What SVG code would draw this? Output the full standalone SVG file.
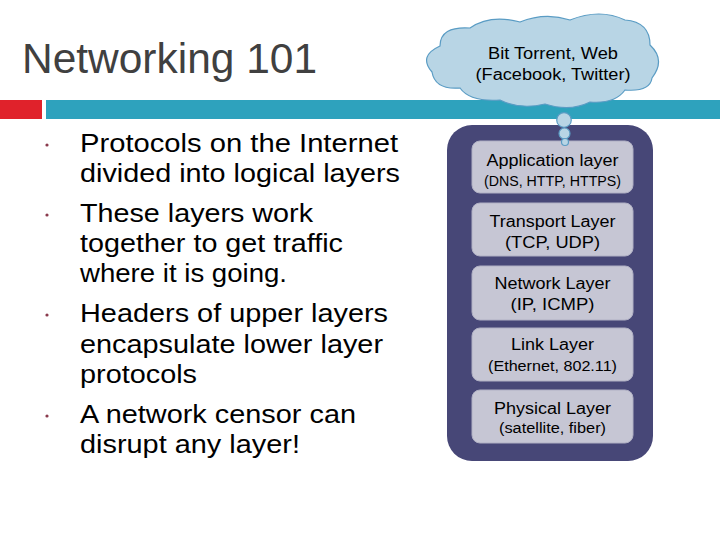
<svg xmlns="http://www.w3.org/2000/svg" width="720" height="540" viewBox="0 0 720 540">
<style>
text{font-family:"Liberation Sans",Arial,sans-serif}
.title{font-size:43px;fill:#404040}
.bt{font-size:25px;fill:#000}
.dot{fill:#8a3a4c}
.lay{fill:#c6c6d4;stroke:#b0b0c4;stroke-width:1}
.l1{font-size:16px;fill:#000;text-anchor:middle}
.l2{font-size:14px;fill:#000;text-anchor:middle}
.cl{fill:#b8d5e5;stroke:#5a9cc4;stroke-width:1.2}
</style>
<rect width="720" height="540" fill="#fff"/>
<g id="title">
<text class="title" x="22" y="73" textLength="295" lengthAdjust="spacingAndGlyphs">Networking 101</text>
</g>
<g id="bars">
<rect x="0" y="100" width="42" height="19" fill="#e0222b"/>
<rect x="46" y="100" width="674" height="19" fill="#2ea2bd"/>
</g>
<g id="bullets">
<circle class="dot" cx="47" cy="145" r="1.6"/>
<circle class="dot" cx="47" cy="215" r="1.6"/>
<circle class="dot" cx="47" cy="315" r="1.6"/>
<circle class="dot" cx="47" cy="416" r="1.6"/>
<text class="bt" x="80" y="152" textLength="318" lengthAdjust="spacingAndGlyphs">Protocols on the Internet</text>
<text class="bt" x="80" y="182" textLength="320" lengthAdjust="spacingAndGlyphs">divided into logical layers</text>
<text class="bt" x="80" y="222" textLength="233" lengthAdjust="spacingAndGlyphs">These layers work</text>
<text class="bt" x="80" y="252" textLength="263" lengthAdjust="spacingAndGlyphs">together to get traffic</text>
<text class="bt" x="80" y="282" textLength="207" lengthAdjust="spacingAndGlyphs">where it is going.</text>
<text class="bt" x="80" y="322" textLength="308" lengthAdjust="spacingAndGlyphs">Headers of upper layers</text>
<text class="bt" x="80" y="353" textLength="303" lengthAdjust="spacingAndGlyphs">encapsulate lower layer</text>
<text class="bt" x="80" y="383" textLength="117" lengthAdjust="spacingAndGlyphs">protocols</text>
<text class="bt" x="80" y="423" textLength="276" lengthAdjust="spacingAndGlyphs">A network censor can</text>
<text class="bt" x="80" y="453" textLength="220" lengthAdjust="spacingAndGlyphs">disrupt any layer!</text>
</g>
<g id="stack">
<rect x="447" y="125" width="206" height="336" rx="25" fill="#474777"/>
</g>
<g id="application">
<rect class="lay" x="472" y="141" width="161" height="52" rx="8"/>
<text class="l1" x="552.5" y="166" textLength="132" lengthAdjust="spacingAndGlyphs">Application layer</text>
<text class="l2" x="552.5" y="186" textLength="137" lengthAdjust="spacingAndGlyphs">(DNS, HTTP, HTTPS)</text>
</g>
<g id="transport">
<rect class="lay" x="472" y="203" width="161" height="53" rx="8"/>
<text class="l1" x="552.5" y="227" textLength="126" lengthAdjust="spacingAndGlyphs">Transport Layer</text>
<text class="l1" x="552.5" y="248" textLength="95" lengthAdjust="spacingAndGlyphs">(TCP, UDP)</text>
</g>
<g id="network">
<rect class="lay" x="472" y="266" width="161" height="54" rx="8"/>
<text class="l1" x="552.5" y="289" textLength="116" lengthAdjust="spacingAndGlyphs">Network Layer</text>
<text class="l1" x="552.5" y="310" textLength="84" lengthAdjust="spacingAndGlyphs">(IP, ICMP)</text>
</g>
<g id="link">
<rect class="lay" x="472" y="328" width="161" height="53" rx="8"/>
<text class="l1" x="552.5" y="350" textLength="83" lengthAdjust="spacingAndGlyphs">Link Layer</text>
<text class="l2" x="552.5" y="371" textLength="129" lengthAdjust="spacingAndGlyphs">(Ethernet, 802.11)</text>
</g>
<g id="physical">
<rect class="lay" x="472" y="390" width="161" height="53" rx="8"/>
<text class="l1" x="552.5" y="414" textLength="117" lengthAdjust="spacingAndGlyphs">Physical Layer</text>
<text class="l2" x="552.5" y="433" textLength="107" lengthAdjust="spacingAndGlyphs">(satellite, fiber)</text>
</g>
<g id="cloud">
<path class="cl" d="M432,72 Q418,56 440,46 Q440,26 470,28 Q490,14 520,22 Q545,12 570,20 Q600,8 625,20 Q650,22 650,45 Q666,60 652,78 Q650,92 625,90 Q615,104 590,102 Q570,112 545,104 Q520,110 500,100 Q470,102 460,88 Q435,90 432,72 Z"/>
<text class="l1" x="553" y="59" textLength="130" lengthAdjust="spacingAndGlyphs">Bit Torrent, Web</text>
<text class="l1" x="553" y="80" textLength="155" lengthAdjust="spacingAndGlyphs">(Facebook, Twitter)</text>
</g>
<g id="connectors">
<circle class="cl" cx="564" cy="120" r="7.3"/>
<circle class="cl" cx="564.5" cy="133.5" r="5.5"/>
<circle class="cl" cx="565" cy="142" r="3.5"/>
</g>
</svg>
